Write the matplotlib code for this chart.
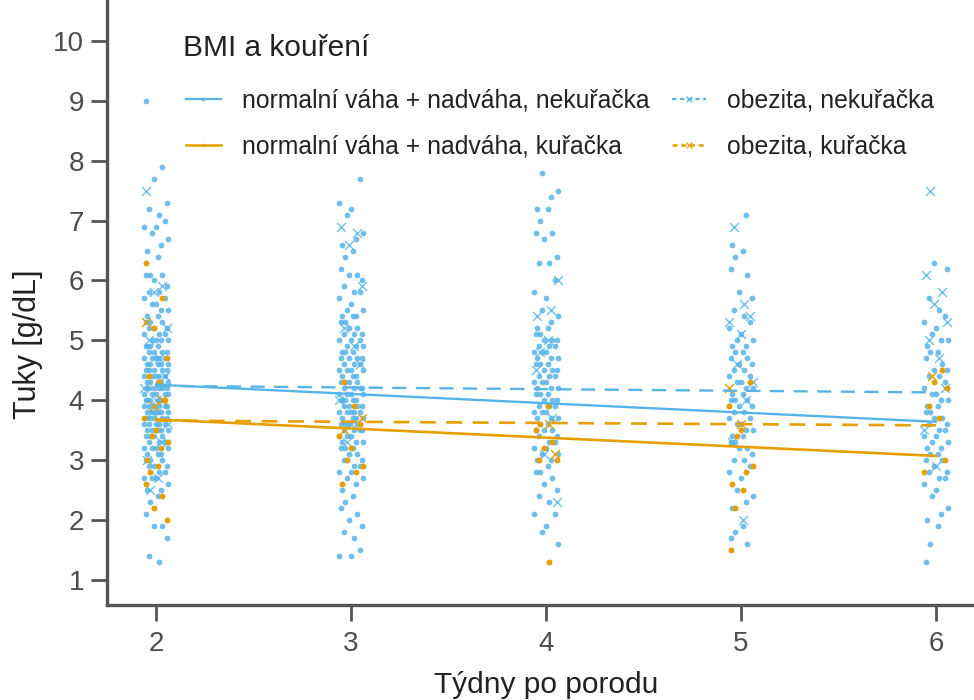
import numpy as np
import matplotlib
matplotlib.use("Agg")
import matplotlib.pyplot as plt
from matplotlib.lines import Line2D

plt.rcParams['font.family'] = ['Liberation Sans', 'DejaVu Sans']

BLUE = '#56B4E9'
ORANGE = '#E69F00'

WEEKS = [2, 3, 4, 5, 6]

# normalni vaha + nadvaha, nekuracka (blue dots)
NN = {
    2: [9.0, 7.9, 7.7, 7.3, 7.2, 7.1, 7.0, 6.9, 6.9, 6.8, 6.7, 6.6, 6.5, 6.4, 6.1, 6.1, 6.1, 6.0, 5.9, 5.8,
        5.8, 5.7, 5.7, 5.6, 5.6, 5.5, 5.5, 5.4, 5.4, 5.3, 5.3, 5.3, 5.2, 5.2, 5.2, 5.1, 5.1, 5.1, 5.0, 5.0,
        5.0, 5.0, 4.9, 4.9, 4.9, 4.9, 4.8, 4.8, 4.8, 4.8, 4.7, 4.7, 4.7, 4.7, 4.7, 4.6, 4.6, 4.6, 4.6, 4.6,
        4.5, 4.5, 4.5, 4.5, 4.5, 4.4, 4.4, 4.4, 4.4, 4.4, 4.3, 4.3, 4.3, 4.3, 4.3, 4.2, 4.2, 4.2, 4.2, 4.2,
        4.2, 4.1, 4.1, 4.1, 4.1, 4.1, 4.0, 4.0, 4.0, 4.0, 4.0, 4.0, 3.9, 3.9, 3.9, 3.9, 3.9, 3.9, 3.8, 3.8,
        3.8, 3.8, 3.8, 3.8, 3.7, 3.7, 3.7, 3.7, 3.7, 3.6, 3.6, 3.6, 3.6, 3.6, 3.5, 3.5, 3.5, 3.5, 3.5, 3.4,
        3.4, 3.4, 3.4, 3.3, 3.3, 3.3, 3.3, 3.2, 3.2, 3.2, 3.2, 3.1, 3.1, 3.1, 3.0, 3.0, 3.0, 2.9, 2.9, 2.9,
        2.8, 2.8, 2.7, 2.7, 2.7, 2.6, 2.5, 2.5, 2.4, 2.3, 2.1, 1.9, 1.9, 1.7, 1.4, 1.3],
    3: [7.7, 7.3, 7.2, 7.1, 6.8, 6.7, 6.6, 6.5, 6.4, 6.2, 6.1, 6.1, 6.0, 5.9, 5.8, 5.8, 5.7, 5.6, 5.5, 5.5,
        5.4, 5.4, 5.4, 5.3, 5.3, 5.2, 5.2, 5.1, 5.1, 5.1, 5.0, 5.0, 5.0, 4.9, 4.9, 4.9, 4.8, 4.8, 4.8, 4.7,
        4.7, 4.7, 4.7, 4.6, 4.6, 4.6, 4.5, 4.5, 4.5, 4.5, 4.4, 4.4, 4.4, 4.3, 4.3, 4.3, 4.3, 4.2, 4.2, 4.2,
        4.2, 4.1, 4.1, 4.1, 4.1, 4.0, 4.0, 4.0, 4.0, 4.0, 3.9, 3.9, 3.9, 3.9, 3.8, 3.8, 3.8, 3.8, 3.8, 3.7,
        3.7, 3.7, 3.7, 3.6, 3.6, 3.6, 3.6, 3.5, 3.5, 3.5, 3.5, 3.4, 3.4, 3.4, 3.3, 3.3, 3.3, 3.2, 3.2, 3.2,
        3.1, 3.1, 3.0, 3.0, 2.9, 2.9, 2.8, 2.8, 2.7, 2.7, 2.6, 2.5, 2.4, 2.3, 2.2, 2.1, 2.0, 1.9, 1.8, 1.7,
        1.5, 1.4, 1.4],
    4: [7.8, 7.5, 7.4, 7.2, 7.2, 7.0, 6.8, 6.8, 6.7, 6.4, 6.3, 6.3, 6.0, 5.8, 5.7, 5.5, 5.4, 5.3, 5.2, 5.2,
        5.1, 5.1, 5.0, 5.0, 5.0, 4.9, 4.9, 4.9, 4.8, 4.8, 4.8, 4.7, 4.7, 4.7, 4.6, 4.6, 4.6, 4.5, 4.5, 4.5,
        4.4, 4.4, 4.4, 4.3, 4.3, 4.3, 4.2, 4.2, 4.2, 4.1, 4.1, 4.1, 4.0, 4.0, 4.0, 3.9, 3.9, 3.9, 3.8, 3.8,
        3.8, 3.7, 3.7, 3.7, 3.6, 3.6, 3.5, 3.5, 3.5, 3.4, 3.4, 3.3, 3.3, 3.2, 3.2, 3.1, 3.1, 3.0, 3.0, 2.9,
        2.8, 2.8, 2.7, 2.6, 2.5, 2.4, 2.3, 2.1, 2.1, 1.9, 1.8, 1.6],
    5: [7.1, 6.6, 6.5, 6.4, 6.2, 6.1, 5.8, 5.7, 5.5, 5.4, 5.3, 5.2, 5.1, 5.0, 5.0, 4.9, 4.9, 4.8, 4.8, 4.7,
        4.7, 4.6, 4.6, 4.5, 4.5, 4.4, 4.4, 4.3, 4.3, 4.2, 4.2, 4.1, 4.1, 4.0, 4.0, 4.0, 3.9, 3.9, 3.8, 3.8,
        3.7, 3.7, 3.6, 3.6, 3.5, 3.5, 3.4, 3.4, 3.3, 3.3, 3.2, 3.2, 3.1, 3.0, 3.0, 2.9, 2.8, 2.7, 2.5, 2.4,
        2.3, 2.2, 1.9, 1.8, 1.7, 1.6],
    6: [6.3, 6.2, 5.7, 5.5, 5.4, 5.3, 5.2, 5.1, 5.0, 5.0, 4.9, 4.8, 4.8, 4.7, 4.6, 4.5, 4.5, 4.4, 4.4, 4.3,
        4.2, 4.1, 4.1, 4.0, 4.0, 3.9, 3.9, 3.8, 3.8, 3.7, 3.7, 3.6, 3.6, 3.5, 3.5, 3.4, 3.4, 3.3, 3.3, 3.2,
        3.2, 3.1, 3.1, 3.0, 3.0, 2.9, 2.8, 2.8, 2.7, 2.7, 2.6, 2.5, 2.4, 2.2, 2.1, 2.0, 1.9, 1.6, 1.3],
}
# obezita, nekuracka (blue x)
ON = {
    2: [7.5, 5.9, 5.8, 5.2, 5.0, 4.7, 4.4, 4.2, 4.0, 3.8, 3.6, 3.3, 3.0, 2.7, 2.5],
    3: [6.9, 6.8, 6.6, 5.9, 5.2, 4.9, 4.6, 4.0, 3.6, 3.3],
    4: [6.0, 5.5, 5.4, 5.0, 4.8, 4.5, 3.7, 3.1, 2.3],
    5: [6.9, 5.6, 5.4, 5.3, 5.1, 4.6, 4.3, 4.0, 3.3, 2.0],
    6: [7.5, 6.1, 5.8, 5.6, 5.3, 5.0, 4.7, 4.2, 3.5, 2.9],
}
# normalni vaha + nadvaha, kurarka (orange dots)
NS = {
    2: [6.3, 5.7, 5.2, 4.7, 4.4, 4.3, 4.0, 3.7, 3.5, 3.4, 3.3, 3.2, 3.0, 2.9, 2.8, 2.6, 2.4, 2.2, 2.0],
    3: [4.3, 3.9, 3.6, 3.4, 3.2, 3.0, 2.9, 2.8, 2.6],
    4: [3.9, 3.6, 3.5, 3.3, 3.2, 3.0, 3.0, 1.3],
    5: [4.3, 3.9, 3.5, 3.4, 2.9, 2.8, 2.6, 2.5, 2.2, 1.5],
    6: [4.5, 4.3, 4.2, 3.9, 3.7, 3.0, 2.8],
}
# obezita, kuracka (orange x)
OS = {
    2: [5.3, 4.0, 3.9],
    3: [3.7, 3.5],
    4: [3.6, 3.1],
    5: [4.2, 3.6],
    6: [4.4],
}

# fitted lines: value at week 2 and week 6
FIT_X = [2, 6]
FIT_NN = [4.26, 3.64]
FIT_ON = [4.24, 4.13]
FIT_NS = [3.68, 3.07]
FIT_OS = [3.66, 3.58]

LABELS = ['normalní váha + nadváha, nekuřačka', 'normalní váha + nadváha, kuřačka',
          'obezita, nekuřačka', 'obezita, kuřačka']

JITTER = [-0.05, 0.03, -0.01, 0.055, -0.035, 0.015, 0.045, -0.06, 0.0, -0.02, 0.06, 0.025, -0.045, 0.01, -0.03]


def jittered(groups):
    xs, ys = [], []
    k = 0
    for w in WEEKS:
        for v in groups[w]:
            xs.append(w + JITTER[k % len(JITTER)])
            ys.append(v)
            k += 1
    return xs, ys


fig = plt.figure(figsize=(9.74, 7.0), dpi=100)
ax = fig.add_axes([0.110, 0.136, 0.890, 0.864])

x, y = jittered(NN)
ax.scatter(x, y, s=17, color=BLUE, marker='o', linewidths=0, alpha=0.85, zorder=2)
x, y = jittered(ON)
ax.scatter(x, y, s=40, color=BLUE, marker='x', linewidths=1.0, alpha=0.85, zorder=2)
x, y = jittered(NS)
ax.scatter(x, y, s=18, color=ORANGE, marker='o', linewidths=0, zorder=3)
x, y = jittered(OS)
ax.scatter(x, y, s=40, color=ORANGE, marker='x', linewidths=1.0, zorder=3)

ax.plot(FIT_X, FIT_NN, color=BLUE, lw=1.7, zorder=4)
ax.plot(FIT_X, FIT_ON, color=BLUE, lw=1.7, ls=(0, (6, 4)), zorder=4)
ax.plot(FIT_X, FIT_NS, color=ORANGE, lw=1.9, zorder=4)
ax.plot(FIT_X, FIT_OS, color=ORANGE, lw=1.9, ls=(0, (6, 4)), zorder=4)

ax.set_xlim(1.749, 6.195)
ax.set_ylim(0.583, 10.685)
ax.set_xticks(WEEKS)
ax.set_yticks(range(1, 11))

for s in ['top', 'right']:
    ax.spines[s].set_visible(False)
for s in ['left', 'bottom']:
    ax.spines[s].set_color('#555555')
    ax.spines[s].set_linewidth(2.4)
ax.tick_params(length=11.5, width=2, color='#555555', labelsize=20, labelcolor='#4d4d4d')
ax.tick_params(axis='y', pad=5)
ax.tick_params(axis='x', pad=7.5)

ax.set_xlabel('Týdny po porodu', fontsize=21.5, color='#222222')
ax.set_ylabel('Tuky [g/dL]', fontsize=22, color='#222222')
ax.xaxis.label.set_va('center')
ax.yaxis.label.set_va('center')
ax.xaxis.set_label_coords(0.506, -0.132)
ax.yaxis.set_label_coords(-0.091, 0.431)

ax.text(0.0877, 0.9074, 'BMI a kouření', transform=ax.transAxes, fontsize=21.5,
        color='#222222', ha='left', va='baseline')

handles = [
    Line2D([], [], color=BLUE, lw=1.6, marker='.', markersize=3),
    Line2D([], [], color=ORANGE, lw=1.8, marker='.', markersize=3),
    Line2D([], [], color=BLUE, lw=1.6, ls=(0, (2, 1.5)), marker='x', markersize=4, markeredgewidth=0.8),
    Line2D([], [], color=ORANGE, lw=1.8, ls=(0, (2, 1.5)), marker='x', markersize=4, markeredgewidth=0.8),
]
leg = ax.legend(handles, LABELS, ncol=2, frameon=False,
                loc='upper left', bbox_to_anchor=(0.0911, 0.853), fontsize=17.8,
                handlelength=1.4, handletextpad=0.85, columnspacing=0.9, labelspacing=0.89,
                borderpad=0, borderaxespad=0)
for t in leg.get_texts():
    t.set_color('#222222')

fig.savefig('out.png', dpi=100)
